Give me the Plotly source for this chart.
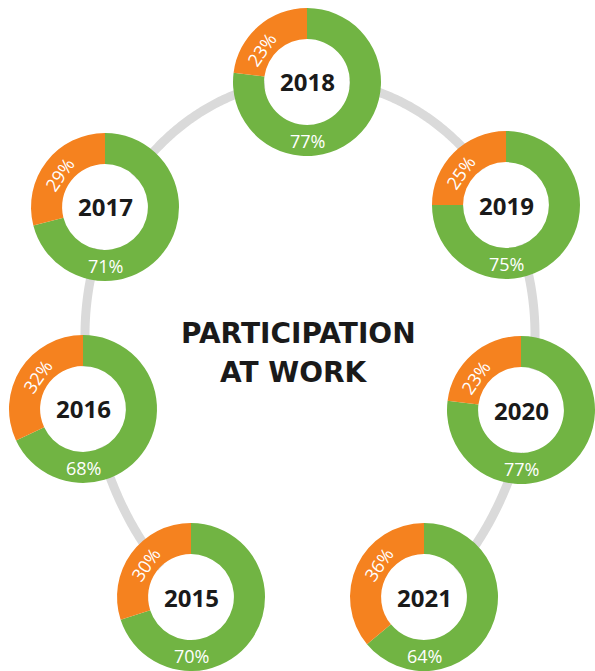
import plotly.graph_objects as go
import math

# ---- data ----
years = ["2015", "2016", "2017", "2018", "2019", "2020", "2021"]
participating = [70, 68, 71, 77, 75, 77, 64]
not_participating = [30, 32, 29, 23, 25, 23, 36]
slice_labels = ["Participating", "Not participating"]
title_lines = ["PARTICIPATION", "AT WORK"]

# ---- layout (pixel positions of donut centres) ----
W, H = 595, 671
centers = [(191, 599), (83, 409), (105, 207), (307, 82), (506, 205), (527, 410), (424, 599)]
R = 74
HOLE = 0.58
GREEN = "#71B443"
ORANGE = "#F5821F"
RING = "#DADADA"

def px(x):
    return x / W

def py(y):
    return 1 - y / H

fig = go.Figure()
shapes = []
annotations = []

# background ring: open elliptical arc (upper half flatter, lower half taller)
ecx, ecy, ea, eb_top, eb_bot = 310, 335, 225, 255, 310
phi_max = 145
pts = []
for i in range(0, 2 * phi_max * 2 + 1):
    phi = math.radians(-phi_max + i * 0.5)
    b = eb_top if math.cos(phi) >= 0 else eb_bot
    x = ecx + ea * math.sin(phi)
    y = ecy - b * math.cos(phi)
    pts.append((px(x), py(y)))
path = "M " + " L ".join("%.5f,%.5f" % p for p in pts)
shapes.append(dict(type="path", xref="paper", yref="paper", layer="below", path=path,
                   line=dict(color=RING, width=9), fillcolor="rgba(0,0,0,0)"))

label_angle = 55  # degrees counter-clockwise from 12 o'clock
for yr, g, o, (cx, cy) in zip(years, participating, not_participating, centers):
    cx = min(max(cx, R), W - R)
    cy = min(max(cy, R), H - R)
    fig.add_trace(go.Pie(
        values=[g, o], labels=slice_labels, sort=False, direction="clockwise",
        rotation=0, hole=HOLE, textinfo="none", showlegend=False,
        marker=dict(colors=[GREEN, ORANGE], line=dict(width=0)),
        domain=dict(x=[px(cx - R), px(cx + R)], y=[py(cy + R), py(cy - R)]),
        name=yr, hovertemplate=yr + "<br>%{label}: %{value}%<extra></extra>",
    ))
    hr = R * HOLE - 0.5
    shapes.append(dict(type="circle", xref="paper", yref="paper", layer="below",
                       x0=px(cx - hr), x1=px(cx + hr), y0=py(cy + hr), y1=py(cy - hr),
                       line=dict(width=0), fillcolor="white"))
    annotations.append(dict(x=px(cx), y=py(cy), xref="paper", yref="paper",
                            text="<b>%s</b>" % yr, showarrow=False,
                            xanchor="center", yanchor="middle",
                            font=dict(family="Open Sans", size=24, color="#1A1A1A")))
    annotations.append(dict(x=px(cx), y=py(cy + 59), xref="paper", yref="paper",
                            text="%d%%" % g, showarrow=False,
                            xanchor="center", yanchor="middle",
                            font=dict(family="Open Sans", size=18, color="white")))
    rr = 56
    th = math.radians(label_angle)
    lx = cx - rr * math.sin(th)
    ly = cy - rr * math.cos(th)
    annotations.append(dict(x=px(lx), y=py(ly), xref="paper", yref="paper",
                            text="%d%%" % o, showarrow=False, textangle=-label_angle,
                            xanchor="center", yanchor="middle",
                            font=dict(family="Open Sans", size=18, color="white")))

annotations.append(dict(x=px(298), y=py(333), xref="paper", yref="paper",
                        text="<b>%s</b>" % title_lines[0], showarrow=False,
                        xanchor="center", yanchor="middle",
                        font=dict(family="DejaVu Sans", size=28, color="#1A1A1A")))
annotations.append(dict(x=px(294), y=py(372), xref="paper", yref="paper",
                        text="<b>%s</b>" % title_lines[1], showarrow=False,
                        xanchor="center", yanchor="middle",
                        font=dict(family="DejaVu Sans", size=28, color="#1A1A1A")))

fig.update_layout(width=W, height=H, margin=dict(l=0, r=0, t=0, b=0),
                  paper_bgcolor="white", plot_bgcolor="white",
                  shapes=shapes, annotations=annotations)

fig.write_html("out.html", config={"displayModeBar": False},
               post_script="document.body.style.margin='0';")
